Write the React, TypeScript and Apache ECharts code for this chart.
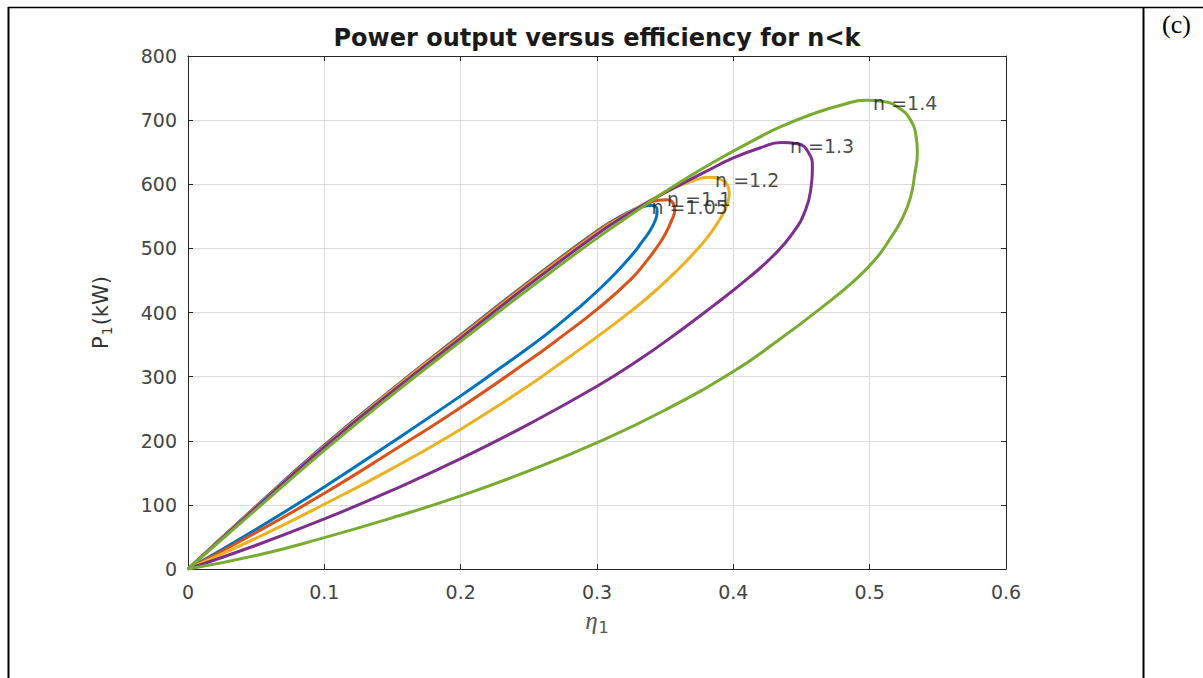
import React, { useEffect, useRef } from "react";
import * as echarts from "echarts";

// ---- data ----
const etaN105 = [0, 0.05, 0.1, 0.15, 0.2, 0.25, 0.3, 0.32, 0.333, 0.34, 0.344, 0.344, 0.343, 0.339, 0.333, 0.325, 0.313, 0.3, 0.288, 0.27, 0.253, 0.23, 0.2, 0.15, 0.1, 0.05, 0];
const powN105 = [0, 98, 193, 281, 365, 448, 527, 553, 565, 567, 561, 556, 545, 528, 510, 488, 460, 433, 410, 378, 350, 315, 270, 198, 128, 62, 0];

const etaN11 = [0, 0.05, 0.1, 0.15, 0.2, 0.25, 0.3, 0.32, 0.335, 0.345, 0.352, 0.356, 0.357, 0.355, 0.35, 0.344, 0.337, 0.325, 0.3, 0.27, 0.25, 0.2, 0.15, 0.1, 0.05, 0];
const powN11 = [0, 97, 192, 280, 364, 447, 526, 552, 568, 575, 576, 570, 560, 545, 522, 502, 482, 452, 405, 356, 325, 252, 184, 118, 57, 0];

const etaN12 = [0, 0.05, 0.1, 0.15, 0.2, 0.25, 0.3, 0.32, 0.34, 0.355, 0.37, 0.382, 0.391, 0.396, 0.397, 0.395, 0.39, 0.382, 0.37, 0.355, 0.337, 0.32, 0.3, 0.27, 0.25, 0.2, 0.15, 0.1, 0.05, 0];
const powN12 = [0, 97, 191, 279, 362, 445, 524, 551, 576, 593, 605, 611, 607, 597, 585, 566, 545, 520, 490, 458, 423, 394, 362, 316, 286, 218, 157, 101, 48, 0];

const etaN13 = [0, 0.05, 0.1, 0.15, 0.2, 0.25, 0.3, 0.32, 0.34, 0.36, 0.38, 0.4, 0.42, 0.435, 0.447, 0.455, 0.458, 0.457, 0.453, 0.444, 0.43, 0.41, 0.385, 0.36, 0.33, 0.3, 0.25, 0.2, 0.15, 0.1, 0.05, 0];
const powN13 = [0, 96, 190, 277, 360, 443, 522, 550, 575, 598, 620, 641, 657, 665, 663, 650, 625, 595, 560, 525, 490, 452, 410, 370, 325, 285, 226, 172, 123, 78, 37, 0];

const etaN14 = [0, 0.05, 0.1, 0.15, 0.2, 0.25, 0.3, 0.337, 0.36, 0.385, 0.41, 0.434, 0.46, 0.48, 0.497, 0.51, 0.522, 0.53, 0.534, 0.535, 0.533, 0.53, 0.524, 0.515, 0.505, 0.49, 0.465, 0.43, 0.4, 0.35, 0.3, 0.25, 0.2, 0.15, 0.1, 0.05, 0];
const powN14 = [0, 93, 185, 272, 355, 437, 516, 570, 602, 634, 663, 689, 711, 724, 731, 729, 718, 700, 675, 650, 615, 580, 547, 515, 485, 452, 408, 352, 308, 248, 197, 153, 114, 80, 49, 21, 0];

const seriesNames = ["n =1.05", "n =1.1", "n =1.2", "n =1.3", "n =1.4"];
const seriesColors = ["#0072BD", "#D95319", "#EDB120", "#7E2F8E", "#77AC30"];

// curve annotations (text anchored at the left end, in data coordinates)
const labelText = ["n =1.05", "n =1.1", "n =1.2", "n =1.3", "n =1.4"];
const labelEta = [0.34, 0.3513, 0.3866, 0.4415, 0.5025];
const labelPow = [564, 577, 607, 660, 727];

const xTicks = { min: 0, max: 0.6, interval: 0.1 };
const yTicks = { min: 0, max: 800, interval: 100 };

const curves = [
  [etaN105, powN105],
  [etaN11, powN11],
  [etaN12, powN12],
  [etaN13, powN13],
  [etaN14, powN14],
];

export default function App() {
  const ref = useRef<HTMLDivElement>(null);

  useEffect(() => {
    if (!ref.current) return;
    const chart = echarts.init(ref.current, undefined, { renderer: "svg" });

    const axisColor = "#262626";
    const tickFont = { fontFamily: "DejaVu Sans", fontSize: 19, color: "#444" };

    const lineSeries = curves.map(([eta, pow], i) => ({
      type: "line",
      name: seriesNames[i],
      xAxisIndex: 0,
      yAxisIndex: 0,
      data: eta.map((e, j) => [e, pow[j]]),
      showSymbol: false,
      smooth: 0.5,
      lineStyle: { width: 3, color: seriesColors[i] },
      itemStyle: { color: seriesColors[i] },
      z: 3 + i,
    }));

    const option = {
      animation: false,
      backgroundColor: "#fff",
      title: {
        text: "Power output versus efficiency for n<k",
        left: 597,
        textAlign: "center",
        top: 26,
        padding: 0,
        textStyle: { fontFamily: "DejaVu Sans", fontWeight: "bold", fontSize: 24, color: "#1a1a1a" },
      },
      grid: { left: 188, top: 56, width: 818, height: 513, containLabel: false },
      xAxis: [
        {
          type: "value",
          position: "bottom",
          ...xTicks,
          axisLine: { show: true, onZero: false, lineStyle: { color: axisColor, width: 1 } },
          axisTick: { show: true, inside: true, length: 5, lineStyle: { color: axisColor } },
          axisLabel: { ...tickFont, margin: 13 },
          splitLine: { show: true, lineStyle: { color: "#dcdcdc", width: 1 } },
          name: "{e|η}{s|1}",
          nameLocation: "middle",
          nameGap: 36,
          nameTextStyle: {
            color: "#555",
            rich: {
              e: { fontFamily: "Liberation Serif", fontStyle: "italic", fontSize: 25, color: "#555" },
              s: { fontFamily: "DejaVu Sans", fontSize: 16, color: "#555", padding: [14, 0, 0, 1] },
            },
          },
        },
        {
          type: "value",
          position: "top",
          ...xTicks,
          axisLine: { show: true, onZero: false, lineStyle: { color: axisColor, width: 1 } },
          axisTick: { show: true, inside: true, length: 5, lineStyle: { color: axisColor } },
          axisLabel: { show: false },
          splitLine: { show: false },
        },
      ],
      yAxis: [
        {
          type: "value",
          position: "left",
          ...yTicks,
          axisLine: { show: true, onZero: false, lineStyle: { color: axisColor, width: 1 } },
          axisTick: { show: true, inside: true, length: 5, lineStyle: { color: axisColor } },
          axisLabel: { ...tickFont, margin: 11 },
          splitLine: { show: true, lineStyle: { color: "#dcdcdc", width: 1 } },
          name: "{p|P}{s|1}{p|(kW)}",
          nameLocation: "middle",
          nameGap: 74,
          nameTextStyle: {
            color: "#333",
            rich: {
              p: { fontFamily: "DejaVu Sans", fontSize: 21, color: "#333" },
              s: { fontFamily: "DejaVu Sans", fontSize: 14, color: "#333", padding: [13, 1, 0, 1] },
            },
          },
        },
        {
          type: "value",
          position: "right",
          ...yTicks,
          axisLine: { show: true, onZero: false, lineStyle: { color: axisColor, width: 1 } },
          axisTick: { show: true, inside: true, length: 5, lineStyle: { color: axisColor } },
          axisLabel: { show: false },
          splitLine: { show: false },
        },
      ],
      series: [
        ...lineSeries,
        {
          type: "scatter",
          xAxisIndex: 0,
          yAxisIndex: 0,
          symbolSize: 0,
          silent: true,
          z: 20,
          data: labelEta.map((e, i) => [e, labelPow[i]]),
          label: {
            show: true,
            position: "right",
            distance: 0,
            formatter: (p: any) => labelText[p.dataIndex],
            fontFamily: "DejaVu Sans",
            fontSize: 19,
            color: "#1a1a1a",
          },
        },
      ],
      graphic: [
        { type: "line", shape: { x1: 8, y1: 7.5, x2: 1203, y2: 7.5 }, style: { stroke: "#000", lineWidth: 1.5 }, z: 50 },
        { type: "line", shape: { x1: 8.5, y1: 7, x2: 8.5, y2: 678 }, style: { stroke: "#000", lineWidth: 2 }, z: 50 },
        { type: "line", shape: { x1: 1143.5, y1: 7, x2: 1143.5, y2: 678 }, style: { stroke: "#000", lineWidth: 2 }, z: 50 },
        {
          type: "text",
          x: 1162,
          y: 24,
          z: 50,
          style: { text: "(c)", font: '26px "Liberation Serif"', fill: "#000", verticalAlign: "middle", textAlign: "left" },
        },
      ],
    };

    chart.setOption(option as any);
    return () => chart.dispose();
  }, []);

  return (
    <div
      ref={ref}
      style={{ position: "absolute", left: 0, top: 0, width: 1203, height: 678, background: "#fff" }}
    />
  );
}
